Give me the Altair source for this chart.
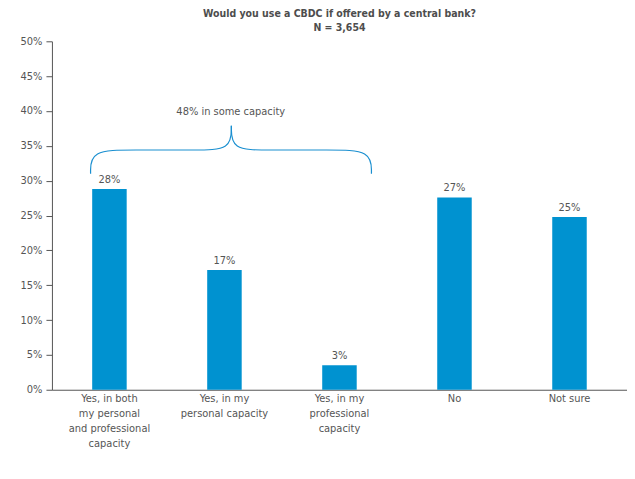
import altair as alt
import pandas as pd

categories = [
    "Yes, in both|my personal|and professional|capacity",
    "Yes, in my|personal capacity",
    "Yes, in my|professional|capacity",
    "No",
    "Not sure",
]
values = [28.8, 17.2, 3.5, 27.6, 24.8]
value_labels = ["28%", "17%", "3%", "27%", "25%"]

# curly brace annotation (position in category-index units, value in %)
brace_x = [-0.164, -0.164, 0.2, 0.75, 1.06, 1.06,
           1.06, 1.06, 1.37, 1.92, 2.278, 2.278]
brace_y = [31.0, 34.4, 34.4, 34.4, 34.4, 37.9,
           37.9, 34.4, 34.4, 34.4, 34.4, 31.0]
brace_part = ["L"] * 6 + ["R"] * 6
brace_text = ["48% in some capacity"]
brace_text_x = [1.055]
brace_text_y = [39.9]

FONT = "'DejaVu Sans Condensed', Roboto, sans-serif"
TXT = "#555555"
BLUE = "#0092D0"

df = pd.DataFrame({"cat": categories, "value": values, "label": value_labels})
bdf = pd.DataFrame({"bx": brace_x, "value": brace_y, "part": brace_part,
                    "ord": list(range(len(brace_x)))})
tdf = pd.DataFrame({"tx": brace_text_x, "value": brace_text_y, "t": brace_text})

yscale = alt.Scale(domain=[0, 50])
xband = alt.X("cat:N", sort=None,
              scale=alt.Scale(paddingInner=0.7, paddingOuter=0.35),
              axis=alt.Axis(title=None, labelAngle=0, ticks=False,
                            labelExpr="split(datum.label, '|')",
                            labelLineHeight=15, labelPadding=3,
                            labelFontSize=11, labelColor=TXT, labelFont=FONT,
                            domainColor="#555555"))
yenc = alt.Y("value:Q", scale=yscale,
             axis=alt.Axis(title=None, values=list(range(0, 51, 5)),
                           labelExpr="datum.value + '%'", grid=False,
                           tickSize=6, tickColor="#555555", domainColor="#555555",
                           labelPadding=4, labelFontSize=11, labelColor=TXT,
                           labelFont=FONT, minExtent=39, maxExtent=39))

bars = alt.Chart(df).mark_bar(color=BLUE).encode(x=xband, y=yenc)
texts = alt.Chart(df).mark_text(baseline="bottom", dy=-4, fontSize=11,
                                color=TXT, font=FONT).encode(
    x=xband, y=yenc, text="label:N")

xq = alt.Scale(domain=[-0.5, 4.5])
brace = alt.Chart(bdf).mark_line(color="#1A8FD0", strokeWidth=1.2,
                                 interpolate="basis").encode(
    x=alt.X("bx:Q", scale=xq, axis=None),
    y=yenc,
    detail="part:N", order="ord:Q")
btext = alt.Chart(tdf).mark_text(fontSize=11, color=TXT, font=FONT,
                                 baseline="middle").encode(
    x=alt.X("tx:Q", scale=xq, axis=None),
    y=yenc, text="t:N")

main = alt.layer(bars, texts)
annot = alt.layer(brace, btext)

chart = alt.layer(main, annot).resolve_scale(x="independent").properties(
    width=576, height=349,
    padding={"left": 5, "top": 0, "right": 0, "bottom": 5},
    title=alt.TitleParams(
        text=["Would you use a CBDC if offered by a central bank?", "N = 3,654"],
        font=FONT, fontSize=10.5, fontWeight="bold", color="#4d4d4d",
        lineHeight=14, anchor="middle", offset=2),
).configure_view(stroke=None)

chart.save("out.html", embed_options={"renderer": "svg", "actions": False})
